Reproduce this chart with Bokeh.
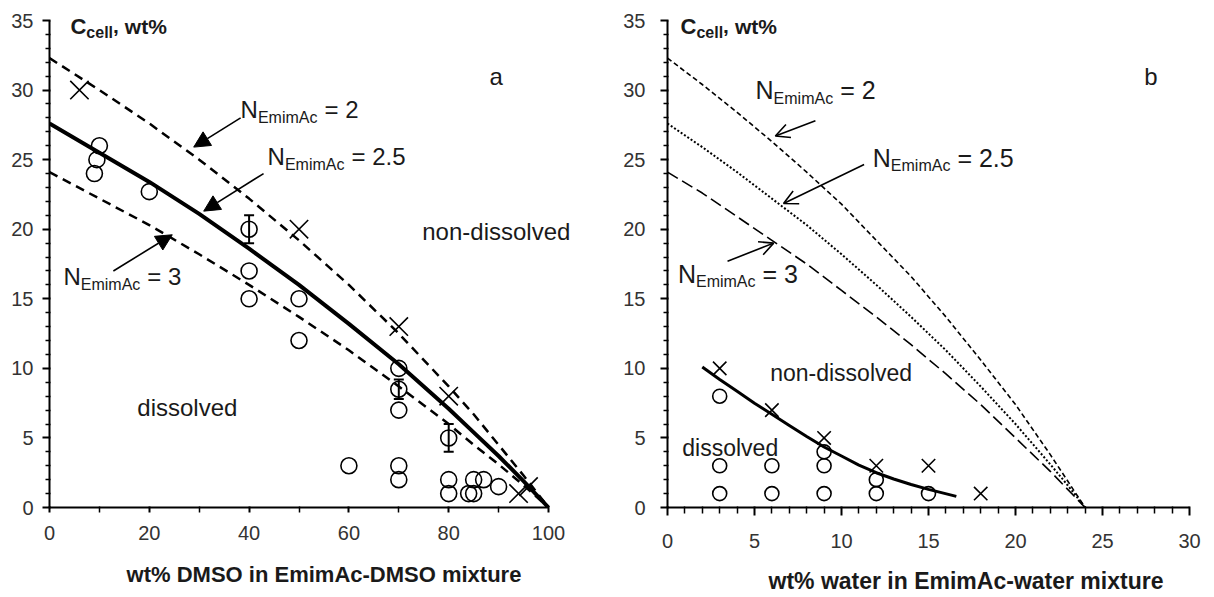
from bokeh.plotting import figure
from bokeh.models import (Range1d, FixedTicker, Label, Arrow, NormalHead, Title,
                          OpenHead, Whisker, TeeHead, ColumnDataSource)
from bokeh.layouts import row
from bokeh.embed import file_html
from bokeh.resources import INLINE

FONT = "Liberation Sans"

# ---------------- Panel a: EmimAc-DMSO ----------------
dmso_curve_x = [0, 10, 20, 30, 40, 50, 60, 70, 80, 85, 90, 95, 100]
dmso_n2 = [32.3, 30.0, 27.6, 25.0, 22.2, 19.2, 16.0, 12.5, 8.7, 6.7, 4.5, 2.3, 0]
dmso_n25 = [27.6, 25.5, 23.4, 21.1, 18.6, 16.0, 13.2, 10.3, 7.1, 5.4, 3.7, 1.9, 0]
dmso_n3 = [24.1, 22.2, 20.3, 18.2, 16.0, 13.7, 11.3, 8.7, 6.0, 4.5, 3.1, 1.6, 0]

dmso_dissolved_x = [9, 9.5, 10, 20, 40, 40, 40, 50, 50, 60, 70, 70, 70, 70, 70, 80, 80, 80, 84, 85, 85, 87, 90]
dmso_dissolved_y = [24, 25, 26, 22.7, 20, 17, 15, 15, 12, 3, 10, 8.5, 7, 3, 2, 5, 2, 1, 1, 1, 2, 2, 1.5]
dmso_nondiss_x = [6, 50, 70, 80, 94, 96]
dmso_nondiss_y = [30, 20, 13, 8, 1, 1.5]
dmso_err_x = [40, 70, 80]
dmso_err_y = [20, 8.5, 5]
dmso_err = [1, 0.7, 1]

dmso_major_ticks = [0, 20, 40, 60, 80, 100]
dmso_minor_ticks = [10, 30, 50, 70, 90]

# ---------------- Panel b: EmimAc-water ----------------
water_curve_x = [0, 2, 4, 6, 8, 10, 12, 14, 16, 18, 20, 22, 23, 24]
water_n2 = [32.3, 30.4, 28.4, 26.3, 24.1, 21.8, 19.2, 16.6, 13.7, 10.6, 7.4, 3.8, 1.9, 0]
water_n25 = [27.6, 25.9, 24.1, 22.2, 20.3, 18.2, 16.0, 13.7, 11.3, 8.7, 6.0, 3.1, 1.6, 0]
water_n3 = [24.1, 22.6, 20.9, 19.2, 17.5, 15.6, 13.7, 11.7, 9.6, 7.4, 5.0, 2.6, 1.3, 0]
water_fit_x = [2, 3, 4, 5, 6, 7, 8, 9, 10, 11, 12, 13, 14, 15, 16.6]
water_fit_y = [10.1, 9.2, 8.35, 7.5, 6.7, 5.9, 5.1, 4.35, 3.7, 3.05, 2.5, 2.05, 1.65, 1.3, 0.8]

water_dissolved_x = [3, 3, 3, 6, 6, 9, 9, 9, 12, 12, 15]
water_dissolved_y = [8, 3, 1, 3, 1, 4, 3, 1, 2, 1, 1]
water_nondiss_x = [3, 6, 9, 12, 15, 18]
water_nondiss_y = [10, 7, 5, 3, 3, 1]

water_major_ticks = [0, 5, 10, 15, 20, 25, 30]
water_minor_ticks = [v for v in range(0, 31) if v % 5]

cell_major_ticks = [0, 5, 10, 15, 20, 25, 30, 35]
cell_minor_ticks = [v for v in range(0, 36) if v % 5]

TICK_COLOR = "#333333"
TEXT_COLOR = "#1a1a1a"

W_REG = {'N': .722, 'E': .667, 'm': .833, 'i': .222, 'A': .667, 'c': .5, ' ': .278,
         '=': .584, '2': .556, '.': .278, '5': .556, '3': .556}
W_BOLD = {'C': .722, 'c': .556, 'e': .556, 'l': .278, ',': .278, ' ': .278,
          'w': .778, 't': .333, '%': .889}


def text_width(s, size, bold=False):
    tab = W_BOLD if bold else W_REG
    return sum(tab.get(ch, .556) for ch in s) * size


def add_parts(p, x, y, parts, bold=False):
    off = 0.0
    for txt, size, dy, gap in parts:
        off += gap
        p.add_layout(Label(x=x, y=y, x_offset=off, y_offset=dy, text=txt,
                           text_font=FONT, text_font_size=f"{size}px",
                           text_font_style="bold" if bold else "normal",
                           text_color=TEXT_COLOR, text_baseline="middle",
                           text_align="left"))
        off += text_width(txt, size, bold)


def add_text(p, x, y, txt, size):
    p.add_layout(Label(x=x, y=y, text=txt, text_font=FONT,
                       text_font_size=f"{size}px", text_color=TEXT_COLOR,
                       text_baseline="middle", text_align="left"))


def style(p, xmaj, xmin, xbounds, xtick_out, xminor_out, ylabel_standoff,
          xlabel_standoff):
    p.xgrid.visible = False
    p.ygrid.visible = False
    p.outline_line_color = None
    p.xaxis.ticker = FixedTicker(ticks=xmaj, minor_ticks=xmin)
    p.yaxis.ticker = FixedTicker(ticks=cell_major_ticks, minor_ticks=cell_minor_ticks)
    p.xaxis.bounds = xbounds
    p.yaxis.bounds = (0, 35)
    for ax in (p.xaxis[0], p.yaxis[0]):
        ax.axis_line_color = "black"
        ax.axis_line_width = 2
        ax.major_tick_line_color = "black"
        ax.major_tick_line_width = 2
        ax.minor_tick_line_color = "black"
        ax.minor_tick_line_width = 1.5
        ax.major_label_text_font = FONT
        ax.major_label_text_font_size = "20px"
        ax.major_label_text_color = TICK_COLOR
    p.xaxis.major_tick_in = 1
    p.xaxis.major_tick_out = xtick_out
    p.xaxis.minor_tick_in = 1
    p.xaxis.minor_tick_out = xminor_out
    p.yaxis.major_tick_in = 1
    p.yaxis.major_tick_out = 7
    p.yaxis.minor_tick_in = 1
    p.yaxis.minor_tick_out = 4
    p.yaxis.major_label_standoff = ylabel_standoff
    p.xaxis.major_label_standoff = xlabel_standoff


Y_END = 35 * 507 / 487.0

# ---------------- figure a ----------------
pa = figure(frame_width=549, frame_height=507, min_border_left=49, min_border_right=10,
            min_border_top=0, min_border_bottom=90,
            x_range=Range1d(0, 549 / 4.99), y_range=Range1d(0, Y_END),
            output_backend="svg", toolbar_location=None)
style(pa, dmso_major_ticks, dmso_minor_ticks, (0, 100), 5, 5, 9, 13)
pa.xaxis.axis_label = "wt% DMSO in EmimAc-DMSO mixture"
pa.xaxis.axis_label_text_font = FONT
pa.xaxis.axis_label_text_font_size = "22px"
pa.xaxis.axis_label_text_font_style = "bold"
pa.xaxis.axis_label_text_color = TEXT_COLOR
pa.xaxis.axis_label_standoff = 19

pa.line(dmso_curve_x, dmso_n2, line_color="black", line_width=2.5, line_dash="9 6")
pa.line(dmso_curve_x, dmso_n3, line_color="black", line_width=2.5, line_dash="9 6")
pa.line(dmso_curve_x, dmso_n25, line_color="black", line_width=4)

src_a = ColumnDataSource(dict(x=dmso_err_x,
                              upper=[v + e for v, e in zip(dmso_err_y, dmso_err)],
                              lower=[v - e for v, e in zip(dmso_err_y, dmso_err)]))
pa.add_layout(Whisker(source=src_a, base="x", upper="upper", lower="lower",
                      line_width=2, line_color="black",
                      upper_head=TeeHead(size=10, line_width=2, line_color="black"),
                      lower_head=TeeHead(size=10, line_width=2, line_color="black")))

pa.scatter(dmso_dissolved_x, dmso_dissolved_y, marker="circle", size=16,
           fill_color=None, line_color="black", line_width=1.6)
pa.scatter(dmso_nondiss_x, dmso_nondiss_y, marker="x", size=26,
           line_color="black", line_width=1.6)

for xs, ys, xe, ye in [(38.3, 28.0, 28.9, 25.9), (42.9, 24.0, 30.9, 21.3),
                       (12.8, 17.0, 24.6, 19.6)]:
    pa.add_layout(Arrow(x_start=xs, y_start=ys, x_end=xe, y_end=ye, line_width=1.6,
                        line_color="black",
                        end=NormalHead(size=16, fill_color="black", line_color="black")))

add_parts(pa, 38.3, 28.6, [("N", 24, 0, 0), ("EmimAc", 16, -8, 0), ("= 2", 24, 0, 7)])
add_parts(pa, 43.7, 25.2, [("N", 24, 0, 0), ("EmimAc", 16, -8, 0), ("= 2.5", 24, 0, 7)])
add_parts(pa, 2.8, 16.6, [("N", 24, 0, 0), ("EmimAc", 16, -8, 0), ("= 3", 24, 0, 7)])
add_parts(pa, 4.2, 34.6, [("C", 22, 0, 0), ("cell", 16, -6, 0), (",", 21, 0, 0),
                          ("wt%", 21, 0, 6)], bold=True)
add_text(pa, 88.2, 31.0, "a", 24)
add_text(pa, 74.7, 19.8, "non-dissolved", 24)
add_text(pa, 17.6, 7.2, "dissolved", 24)

# ---------------- figure b ----------------
pb = figure(frame_width=522, frame_height=507, min_border_left=59, min_border_right=25,
            min_border_top=0, min_border_bottom=90,
            x_range=Range1d(0, 30), y_range=Range1d(0, Y_END),
            output_backend="svg", toolbar_location=None)
style(pb, water_major_ticks, water_minor_ticks, (0, 30), 8, 6, 15, 18)
pb.add_layout(Title(text="wt% water in EmimAc-water mixture", align="left", offset=101,
                    standoff=31, text_font=FONT, text_font_size="23px",
                    text_font_style="bold", text_color=TEXT_COLOR), "below")

pb.line(water_curve_x, water_n2, line_color="black", line_width=1.6, line_dash="5 3")
pb.line(water_curve_x, water_n25, line_color="black", line_width=2, line_dash="2 2")
pb.line(water_curve_x, water_n3, line_color="black", line_width=1.6, line_dash="12 5")
pb.line(water_fit_x, water_fit_y, line_color="black", line_width=3)

pb.scatter(water_dissolved_x, water_dissolved_y, marker="circle", size=14,
           fill_color=None, line_color="black", line_width=1.6)
pb.scatter(water_nondiss_x, water_nondiss_y, marker="x", size=19,
           line_color="black", line_width=1.6)

for xs, ys, xe, ye in [(8.5, 27.8, 6.2, 26.7), (11.3, 24.65, 6.67, 21.85),
                       (3.45, 17.7, 6.1, 19.0)]:
    pb.add_layout(Arrow(x_start=xs, y_start=ys, x_end=xe, y_end=ye, line_width=1.6,
                        line_color="black",
                        end=OpenHead(size=14, line_width=1.6, line_color="black")))

add_parts(pb, 5.06, 30.0, [("N", 25, 0, 0), ("EmimAc", 16, -8, 0), ("= 2", 25, 0, 7)])
add_parts(pb, 11.8, 25.15, [("N", 25, 0, 0), ("EmimAc", 16, -8, 0), ("= 2.5", 25, 0, 7)])
add_parts(pb, 0.6, 16.8, [("N", 25, 0, 0), ("EmimAc", 16, -8, 0), ("= 3", 25, 0, 7)])
add_parts(pb, 0.75, 34.6, [("C", 22, 0, 0), ("cell", 16, -6, 0), (",", 21, 0, 0),
                           ("wt%", 21, 0, 6)], bold=True)
add_text(pb, 27.4, 31.0, "b", 24)
add_text(pb, 5.9, 9.7, "non-dissolved", 23)
add_text(pb, 0.85, 4.3, "dissolved", 23)

layout = row(pa, pb)
open("out.html", "w").write(file_html(layout, INLINE))
